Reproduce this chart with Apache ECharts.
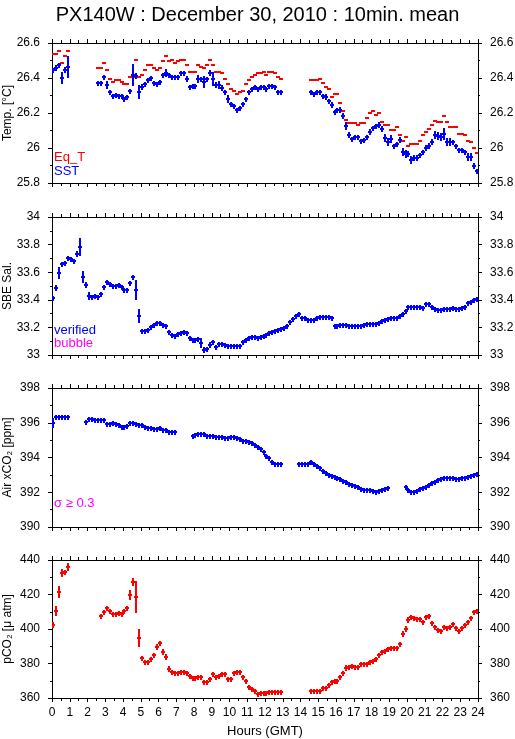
<!DOCTYPE html>
<html><head><meta charset="utf-8">
<script src="https://cdn.jsdelivr.net/npm/echarts@6/dist/echarts.min.js"></script>
<style>html,body{margin:0;padding:0;background:#fff}#c{width:515px;height:739px}</style>
</head><body><div id="c"></div>
<script>
// 10-minute means, slot k covers [k*10, k*10+10) minutes of the day (144 slots)
const slotMinutes = 10;

const sst = [
26.446,26.455,26.474,26.398,26.446,26.465,null,null,null,null,null,null,
null,null,null,26.373,26.373,26.404,26.360,26.318,26.297,26.303,26.297,26.297,
26.280,26.290,26.326,26.417,26.413,26.322,26.347,26.366,26.389,26.398,26.373,26.366,
26.377,26.417,26.431,26.417,26.408,26.404,26.404,26.427,26.427,26.392,26.347,26.356,
26.356,26.394,26.392,26.375,26.392,26.427,26.392,26.360,26.360,26.345,26.318,26.280,
26.249,26.240,26.217,26.227,26.249,26.280,26.318,26.337,26.347,26.337,26.347,26.347,
26.337,26.356,26.356,26.347,26.318,26.318,null,null,null,null,null,null,
null,null,null,26.318,26.307,26.318,26.318,26.297,26.290,26.270,26.246,26.208,
26.217,26.217,26.185,26.128,26.074,26.051,26.065,26.065,26.040,26.046,26.065,26.089,
26.112,26.128,26.131,26.107,26.059,26.036,26.049,26.013,26.021,26.046,25.979,25.966,
25.966,25.931,25.941,25.941,25.960,25.979,26.002,26.013,26.036,26.074,26.069,26.065,
26.080,26.032,26.032,26.032,26.011,25.988,25.988,25.979,25.950,25.950,25.897,25.870];

const sstErr = [
0.01,0.015,0.01,0.036,0.019,0.06,0,0,0,0,0,0,
0,0,0,0.01,0.01,0.012,0.024,0.01,0.008,0.01,0.008,0.008,
0.01,0.01,0.012,0.06,0.015,0.038,0.015,0.01,0.01,0.01,0.01,0.01,
0.01,0.012,0.025,0.012,0.01,0.01,0.01,0.01,0.01,0.015,0.012,0.01,
0.01,0.02,0.012,0.034,0.012,0.015,0.04,0.015,0.025,0.015,0.012,0.02,
0.012,0.01,0.01,0.01,0.012,0.012,0.012,0.01,0.012,0.01,0.01,0.01,
0.01,0.01,0.01,0.01,0.012,0.01,0,0,0,0,0,0,
0,0,0,0.01,0.01,0.01,0.01,0.01,0.015,0.012,0.015,0.012,
0.012,0.015,0.015,0.02,0.015,0.012,0.012,0.012,0.01,0.01,0.012,0.015,
0.012,0.012,0.015,0.015,0.025,0.02,0.02,0.012,0.012,0.015,0.02,0.02,
0.015,0.02,0.015,0.015,0.012,0.012,0.015,0.015,0.015,0.025,0.02,0.02,
0.035,0.025,0.02,0.012,0.01,0.01,0.01,0.012,0.02,0.02,0.015,0.012];

const eqT = [
26.537,26.537,26.554,26.484,26.526,26.554,null,null,null,null,null,null,
null,null,null,26.455,26.455,26.484,26.446,26.394,26.375,26.389,26.389,26.375,
26.364,26.364,26.404,26.404,26.503,26.404,26.417,26.446,26.474,26.474,26.455,26.446,
26.455,26.497,26.526,26.497,26.503,26.484,26.497,26.503,26.503,26.474,26.432,26.432,
26.432,26.474,26.465,26.459,26.474,26.503,26.474,26.432,26.432,26.427,26.394,26.364,
26.337,26.326,26.309,26.318,26.326,26.364,26.389,26.404,26.417,26.427,26.427,26.432,
26.417,26.432,26.432,26.427,26.404,26.394,null,null,null,null,null,null,
null,null,null,26.389,26.389,26.389,26.394,26.370,26.347,26.337,26.293,26.309,
26.309,26.255,26.211,26.158,26.141,26.141,26.145,26.131,26.141,26.145,26.169,26.198,
26.211,26.189,26.198,26.147,26.131,26.131,26.103,26.103,26.118,26.074,26.040,26.061,
26.011,26.021,26.021,26.021,26.040,26.074,26.089,26.107,26.131,26.156,26.147,26.147,
26.183,26.147,26.118,26.118,26.118,26.080,26.080,26.074,26.040,26.032,25.998,25.969];

const salinity = [
33.411,33.483,33.592,33.657,33.664,33.701,33.696,33.684,33.730,33.780,33.563,33.507,
33.428,33.423,33.428,33.423,33.440,33.490,33.527,33.512,33.500,33.500,33.507,33.490,
33.471,33.471,33.519,33.568,33.471,33.283,33.177,33.174,33.181,33.201,33.218,33.234,
33.230,33.218,33.210,33.164,33.145,33.140,33.152,33.157,33.164,33.157,33.121,33.109,
33.109,33.116,33.090,33.037,33.044,33.073,33.097,33.061,33.078,33.078,33.073,33.068,
33.068,33.068,33.068,33.068,33.092,33.109,33.126,33.133,33.133,33.126,33.133,33.140,
33.145,33.157,33.169,33.177,33.181,33.189,33.198,33.213,33.237,33.261,33.285,33.295,
33.271,33.266,33.254,33.254,33.254,33.271,33.278,33.278,33.278,33.278,33.266,33.210,
33.210,33.218,33.218,33.215,33.210,33.210,33.210,33.210,33.213,33.218,33.222,33.225,
33.225,33.227,33.234,33.247,33.254,33.261,33.266,33.266,33.268,33.283,33.295,33.319,
33.350,33.350,33.350,33.350,33.350,33.343,33.370,33.367,33.346,33.331,33.326,33.326,
33.331,33.334,33.336,33.343,33.331,33.331,33.338,33.350,33.375,33.387,33.399,33.404];

const salinityErr = [
0.01,0.02,0.04,0.015,0.008,0.01,0.008,0.006,0.02,0.066,0.045,0.02,
0.03,0.01,0.015,0.008,0.008,0.015,0.01,0.006,0.006,0.006,0.006,0.006,
0.006,0.008,0.012,0.015,0.07,0.052,0.006,0.006,0.006,0.006,0.006,0.006,
0.006,0.006,0.006,0.015,0.006,0.006,0.006,0.006,0.006,0.006,0.006,0.006,
0.006,0.006,0.034,0.02,0.008,0.02,0.01,0.006,0.006,0.006,0.006,0.006,
0.006,0.006,0.006,0.006,0.006,0.006,0.006,0.006,0.006,0.006,0.006,0.006,
0.006,0.006,0.006,0.006,0.006,0.006,0.006,0.006,0.006,0.006,0.006,0.006,
0.006,0.006,0.006,0.006,0.006,0.006,0.006,0.006,0.006,0.006,0.015,0.01,
0.006,0.006,0.006,0.006,0.006,0.006,0.006,0.006,0.006,0.006,0.006,0.006,
0.006,0.006,0.006,0.006,0.006,0.006,0.006,0.006,0.006,0.006,0.006,0.006,
0.006,0.006,0.006,0.006,0.006,0.01,0.008,0.006,0.006,0.006,0.006,0.006,
0.006,0.006,0.006,0.006,0.006,0.006,0.006,0.006,0.006,0.006,0.006,0.006];

const airCO2 = [
395.966,396.31,396.31,396.31,396.31,396.31,null,null,null,null,null,396.062,
396.196,396.196,396.158,396.158,396.158,396.158,395.928,395.909,395.966,395.909,395.870,395.736,
395.736,395.813,395.966,395.966,395.909,395.870,395.870,395.774,395.717,395.678,395.640,395.640,
395.678,395.582,395.582,395.487,395.487,395.487,null,null,null,null,null,395.237,
395.295,395.333,395.333,395.333,395.256,395.256,395.256,395.199,395.160,395.160,395.141,395.103,
395.160,395.160,395.141,395.065,394.949,394.949,394.911,394.815,394.719,394.585,394.489,394.297,
394.086,393.952,393.722,393.606,393.606,393.606,null,null,null,null,null,393.606,
393.626,393.606,393.606,393.722,393.606,393.530,393.376,393.242,393.127,392.993,392.935,392.858,
392.801,392.743,392.647,392.571,392.475,392.418,392.360,392.283,392.187,392.130,392.130,392.130,
392.091,392.033,392.072,392.130,392.187,392.226,null,null,null,null,null,392.321,
392.130,392.033,392.033,392.072,392.168,392.226,392.321,392.418,392.513,392.609,392.686,392.743,
392.801,392.801,392.801,392.801,392.762,392.782,392.801,392.839,392.878,392.935,392.993,393.031];

const airErr = [
0.29,0.03,0.03,0.03,0.03,0.03,0,0,0,0,0,0.03,
0.03,0.03,0.03,0.03,0.03,0.03,0.03,0.03,0.03,0.03,0.03,0.03,
0.03,0.03,0.03,0.03,0.03,0.03,0.03,0.03,0.03,0.03,0.03,0.03,
0.03,0.03,0.03,0.03,0.03,0.03,0,0,0,0,0,0.03,
0.03,0.03,0.03,0.03,0.03,0.03,0.03,0.03,0.03,0.03,0.03,0.03,
0.03,0.03,0.03,0.03,0.03,0.03,0.03,0.03,0.03,0.04,0.03,0.04,
0.03,0.03,0.03,0.03,0.03,0.03,0,0,0,0,0,0.03,
0.03,0.03,0.03,0.04,0.03,0.03,0.03,0.03,0.03,0.03,0.03,0.03,
0.03,0.03,0.03,0.03,0.03,0.03,0.03,0.03,0.03,0.03,0.03,0.03,
0.03,0.03,0.03,0.03,0.03,0.03,0,0,0,0,0,0.12,
0.03,0.03,0.03,0.03,0.03,0.03,0.03,0.03,0.03,0.03,0.03,0.03,
0.03,0.03,0.03,0.03,0.03,0.03,0.03,0.03,0.03,0.03,0.03,0.03];

const pco2 = [
402.32,410.43,421.26,432.27,432.85,435.94,null,null,null,null,null,null,
null,null,null,null,407.54,410.05,412.37,410.43,408.70,408.70,409.08,408.70,
410.43,412.37,419.71,427.05,418.36,394.98,382.99,380.68,380.68,382.41,384.93,389.37,
391.69,386.47,383.57,376.81,374.88,374.30,374.69,374.88,374.88,374.69,372.95,371.79,
371.40,371.98,371.98,369.47,369.08,370.82,373.72,371.98,372.95,373.91,373.91,370.82,
371.02,374.30,375.26,375.26,372.18,369.85,366.57,365.02,364.25,362.32,362.70,363.09,
363.09,363.28,363.28,363.28,363.67,363.67,null,null,null,null,null,null,
null,null,null,364.25,364.25,364.25,364.06,365.60,366.00,367.54,369.47,370.05,
370.05,372.37,374.30,377.58,377.78,378.74,378.16,377.78,379.51,379.90,379.90,380.68,
381.45,382.41,384.93,386.47,387.25,388.41,389.18,388.79,388.79,391.10,396.91,399.99,
405.22,407.15,406.18,405.60,405.80,404.25,407.15,407.54,403.29,400.97,399.42,399.04,
400.97,400.77,401.35,402.70,400.77,399.04,400.35,402.32,404.25,406.57,409.66,410.63];

const pco2Err = [
1.5,3.1,3.5,2.2,0.8,2.2,0,0,0,0,0,0,
0,0,0,0,0.8,1,0.8,0.8,0.5,0.5,0.5,0.5,
0.5,1,2.9,2.4,9.4,5.4,1,0.5,0.5,0.8,1,1.5,
1.2,2,2,1.5,0.8,0.5,0.5,0.5,0.5,0.5,0.8,0.8,
0.5,0.8,0.5,1,0.8,0.5,0.8,0.5,0.8,0.8,0.5,1.2,
0.8,0.8,0.5,0.5,0.8,0.8,0.8,0.5,0.5,0.8,0.5,0.5,
0.5,0.5,0.5,0.5,0.5,0.5,0,0,0,0,0,0,
0,0,0,0.5,0.5,0.5,0.5,0.8,0.5,0.8,0.8,0.5,
0.5,1,1.2,1.8,0.5,0.5,0.5,0.8,0.5,0.5,0.5,0.5,
0.5,0.5,0.8,0.5,0.5,0.5,0.5,0.5,0.5,1.2,1.5,1.8,
1.8,1,0.5,0.5,0.5,1,0.8,1,0.8,0.5,0.5,0.5,
0.5,0.5,0.5,0.5,0.8,0.5,0.5,0.5,0.8,0.8,1,0.5];

// axis ranges / tick steps
const panels = [
  {name: 'Temp. [°C]', min: 25.8, max: 26.6, interval: 0.2, top: 43, height: 140},
  {name: 'SBE Sal.', min: 33, max: 34, interval: 0.2, top: 217, height: 138},
  {name: 'Air xCO\u2082 [ppm]', min: 390, max: 398, interval: 2, top: 388, height: 139},
  {name: 'pCO\u2082 [\u03bc atm]', min: 360, max: 440, interval: 20, top: 560, height: 138}
];
const hourMin = 0, hourMax = 24, hourStep = 1;

const BLUE = '#0000ff', RED = '#ff0000', MAGENTA = '#ff00ff';
const FONT = '"Liberation Sans", Arial, Helvetica, sans-serif';

function toData(vals, errs) {
  const out = [];
  vals.forEach((v, i) => {
    if (v === null) return;
    out.push([(i + 0.5) * slotMinutes / 60, v, errs ? errs[i] : 0]);
  });
  return out;
}

function crossRenderer(color, halfMin, showV) {
  return function (params, api) {
    const t = api.value(0), v = api.value(1), e = api.value(2);
    const c = api.coord([t, v]);
    const cx = Math.round(c[0]), cy = Math.round(c[1]);
    const hw = api.size([halfMin / 60, 0])[0];
    const children = [{
      type: 'line',
      shape: {x1: Math.round(cx - hw), y1: cy, x2: Math.round(cx + hw), y2: cy},
      style: {stroke: color, lineWidth: 2}
    }];
    if (showV) {
      const eh = Math.max(api.size([0, e])[1], 2.5);
      children.push({
        type: 'line',
        shape: {x1: cx, y1: Math.round(cy - eh), x2: cx, y2: Math.round(cy + eh)},
        style: {stroke: color, lineWidth: 2}
      });
    }
    return {type: 'group', children};
  };
}

const grids = [], xAxes = [], yAxes = [];
panels.forEach((p, i) => {
  grids.push({left: 52, right: 37, top: p.top, height: p.height,
              containLabel: false, outerBoundsMode: 'none'});
  const last = i === panels.length - 1;
  const xBase = {
    type: 'value', gridIndex: i, min: hourMin, max: hourMax, interval: hourStep,
    axisLine: {show: true, onZero: false, lineStyle: {color: '#000', width: 1}},
    axisTick: {show: true, inside: false, length: 4, lineStyle: {color: '#000'}},
    minorTick: {show: true, splitNumber: 2, length: 3, lineStyle: {color: '#000'}},
    splitLine: {show: false}, minorSplitLine: {show: false}
  };
  xAxes.push(Object.assign({}, xBase, {
    position: 'bottom',
    axisLabel: {show: last, color: '#000', fontSize: 12, fontFamily: FONT, margin: 9},
    name: last ? 'Hours (GMT)' : '', nameLocation: 'middle', nameGap: 27,
    nameMoveOverlap: false,
    nameTextStyle: {color: '#000', fontSize: 13, fontFamily: FONT}
  }));
  xAxes.push(Object.assign({}, xBase, {position: 'top', axisLabel: {show: false}}));
  const yBase = {
    type: 'value', gridIndex: i, min: p.min, max: p.max, interval: p.interval,
    axisLine: {show: true, onZero: false, lineStyle: {color: '#000', width: 1}},
    axisTick: {show: true, inside: false, length: 4, lineStyle: {color: '#000'}},
    minorTick: {show: true, splitNumber: 2, length: 2, lineStyle: {color: '#000'}},
    splitLine: {show: false}, minorSplitLine: {show: false},
    axisLabel: {show: true, color: '#000', fontSize: 12, fontFamily: FONT, margin: 12}
  };
  yAxes.push(Object.assign({}, yBase, {
    position: 'left', name: p.name, nameLocation: 'middle', nameGap: 38,
    nameMoveOverlap: false,
    nameTextStyle: {color: '#000', fontSize: 12, fontFamily: FONT}
  }));
  yAxes.push(Object.assign({}, yBase, {position: 'right'}));
});

function series(panel, data, color, halfMin, showV) {
  return {
    type: 'custom', coordinateSystem: 'cartesian2d',
    xAxisIndex: panel * 2, yAxisIndex: panel * 2, clip: true, silent: true,
    renderItem: crossRenderer(color, halfMin, showV),
    data: data, animation: false
  };
}

const chart = echarts.init(document.getElementById('c'), null, {renderer: 'canvas'});
chart.setOption({
  animation: false,
  backgroundColor: '#fff',
  title: {
    text: 'PX140W : December 30, 2010 : 10min. mean', left: 'center', top: 0,
    textStyle: {color: '#000', fontSize: 20, fontWeight: 'normal', fontFamily: FONT}
  },
  grid: grids, xAxis: xAxes, yAxis: yAxes,
  series: [
    series(0, toData(eqT, null), RED, 7.5, false),
    series(0, toData(sst, sstErr), BLUE, 6.5, true),
    series(1, toData(salinity, salinityErr), BLUE, 6.5, true),
    series(2, toData(airCO2, airErr), BLUE, 6.5, true),
    series(3, toData(pco2, pco2Err), RED, 6.5, true)
  ],
  graphic: [
    {type: 'text', left: 54, top: 151, style: {text: 'Eq_T', fill: RED, font: '13px ' + FONT}},
    {type: 'text', left: 54, top: 165, style: {text: 'SST', fill: BLUE, font: '13px ' + FONT}},
    {type: 'text', left: 54, top: 324, style: {text: 'verified', fill: BLUE, font: '13px ' + FONT}},
    {type: 'text', left: 54, top: 337, style: {text: 'bubble', fill: MAGENTA, font: '13px ' + FONT}},
    {type: 'text', left: 54, top: 497, style: {text: 'σ ≥ 0.3', fill: MAGENTA, font: '13px ' + FONT}}
  ]
});
</script>
</body></html>
